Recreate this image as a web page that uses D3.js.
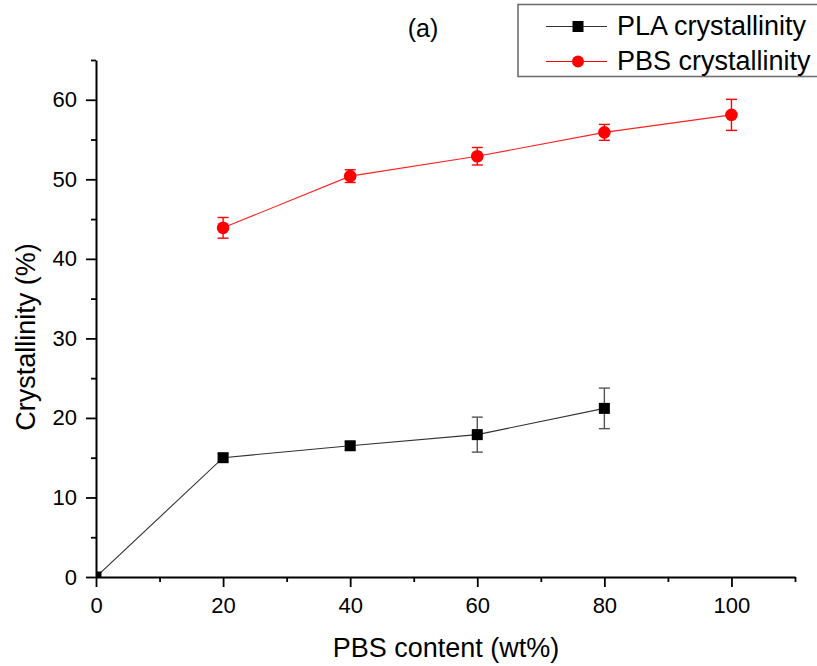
<!DOCTYPE html>
<html>
<head>
<meta charset="utf-8">
<script src="https://cdn.jsdelivr.net/npm/d3@7"></script>
<style>
  html, body { margin: 0; padding: 0; background: #fff; }
  svg { display: block; font-family: "Liberation Sans", Arial, sans-serif; }
</style>
</head>
<body>
<svg id="chart" width="817" height="666"></svg>
<script>
// PBS content (wt%) of each blend
const plaContent = [0, 20, 40, 60, 80];
const plaCrystallinity = [0, 15.0, 16.5, 17.9, 21.2];
const plaError = [0, 0.5, 0.5, 2.2, 2.55];

const pbsContent = [20, 40, 60, 80, 100];
const pbsCrystallinity = [43.9, 50.4, 52.9, 55.9, 58.1];
const pbsError = [1.3, 0.8, 1.1, 1.0, 1.95];

const xMajorTicks = [0, 20, 40, 60, 80, 100];
const xMinorTicks = [10, 30, 50, 70, 90, 110];
const yMajorTicks = [0, 10, 20, 30, 40, 50, 60];
const yMinorTicks = [5, 15, 25, 35, 45, 55, 65];

const seriesNames = ["PLA crystallinity", "PBS crystallinity"];

const svg = d3.select("#chart");
const plotLeft = 96, plotRight = 795, plotTop = 60, plotBottom = 577;

const x = d3.scaleLinear().domain([0, 110]).range([plotLeft, plotRight]);
const y = d3.scaleLinear().domain([0, 65]).range([plotBottom, plotTop]);

// clip marks to the plotting area
svg.append("defs").append("clipPath").attr("id", "plot")
  .append("rect").attr("x", plotLeft).attr("y", plotTop)
  .attr("width", plotRight - plotLeft).attr("height", plotBottom - plotTop);

const plaData = plaContent.map((c, i) => ({ x: c, y: plaCrystallinity[i], e: plaError[i] }));
const pbsData = pbsContent.map((c, i) => ({ x: c, y: pbsCrystallinity[i], e: pbsError[i] }));

const plot = svg.append("g").attr("clip-path", "url(#plot)");
const line = d3.line().x(d => x(d.x)).y(d => y(d.y));

function drawSeries(data, lineColor, errColor, marker) {
  plot.append("path").datum(data)
    .attr("d", line).attr("fill", "none")
    .attr("stroke", lineColor).attr("stroke-width", 1.1);

  const eb = plot.append("g").attr("stroke", errColor).attr("stroke-width", 1.4);
  data.filter(d => d.e > 0).forEach(d => {
    const cx = x(d.x), y1 = y(d.y + d.e), y2 = y(d.y - d.e);
    eb.append("line").attr("x1", cx).attr("x2", cx).attr("y1", y1).attr("y2", y2);
    eb.append("line").attr("x1", cx - 5.5).attr("x2", cx + 5.5).attr("y1", y1).attr("y2", y1);
    eb.append("line").attr("x1", cx - 5.5).attr("x2", cx + 5.5).attr("y1", y2).attr("y2", y2);
  });

  if (marker === "square") {
    plot.append("g").selectAll("rect").data(data).join("rect")
      .attr("x", d => x(d.x) - 5.5).attr("y", d => y(d.y) - 5.5)
      .attr("width", 11).attr("height", 11).attr("fill", "#000");
  } else {
    plot.append("g").selectAll("circle").data(data).join("circle")
      .attr("cx", d => x(d.x)).attr("cy", d => y(d.y))
      .attr("r", 6.3).attr("fill", "#ff0000");
  }
}

drawSeries(plaData, "#333", "#555", "square");
drawSeries(pbsData, "#ff2020", "#ff0000", "circle");

// axes
function styleAxis(g) {
  g.selectAll("line").attr("stroke", "#000").attr("stroke-width", 1.8);
  g.selectAll("path").attr("stroke", "#000").attr("stroke-width", 2);
  g.selectAll("text").attr("fill", "#000").attr("font-size", 22)
    .attr("font-family", "Liberation Sans, Arial, sans-serif");
}

svg.append("g").attr("transform", `translate(0,${plotBottom})`)
  .call(d3.axisBottom(x).tickValues(xMinorTicks).tickSize(5).tickFormat(""))
  .call(g => g.select(".domain").remove())
  .call(styleAxis);
svg.append("g").attr("transform", `translate(0,${plotBottom})`)
  .call(d3.axisBottom(x).tickValues(xMajorTicks).tickSize(10).tickSizeOuter(0).tickPadding(10).tickFormat(d3.format("d")))
  .call(styleAxis);

svg.append("g").attr("transform", `translate(${plotLeft},0)`)
  .call(d3.axisLeft(y).tickValues(yMinorTicks).tickSize(5).tickFormat(""))
  .call(g => g.select(".domain").remove())
  .call(styleAxis);
svg.append("g").attr("transform", `translate(${plotLeft},0)`)
  .call(d3.axisLeft(y).tickValues(yMajorTicks).tickSize(10).tickSizeOuter(0).tickPadding(9).tickFormat(d3.format("d")))
  .call(styleAxis);

// axis titles
svg.append("text").attr("x", 446).attr("y", 657)
  .attr("text-anchor", "middle").attr("font-size", 27)
  .text("PBS content (wt%)");
svg.append("text")
  .attr("transform", "translate(35,337) rotate(-90)")
  .attr("text-anchor", "middle").attr("font-size", 27)
  .text("Crystallinity (%)");

// panel label
svg.append("text").attr("x", 423).attr("y", 37)
  .attr("text-anchor", "middle").attr("font-size", 25)
  .text("(a)");

// legend
const legend = svg.append("g");
legend.append("rect").attr("x", 518).attr("y", 4.5)
  .attr("width", 320).attr("height", 72)
  .attr("fill", "#fff").attr("stroke", "#707070").attr("stroke-width", 1.6);

const legendRows = [
  { name: seriesNames[0], color: "#333", fill: "#000", marker: "square", ly: 26.5, ty: 35 },
  { name: seriesNames[1], color: "#ff0000", fill: "#ff0000", marker: "circle", ly: 61.5, ty: 70 }
];
legendRows.forEach(r => {
  legend.append("line").attr("x1", 546).attr("x2", 607)
    .attr("y1", r.ly).attr("y2", r.ly)
    .attr("stroke", r.color).attr("stroke-width", 1.1);
  if (r.marker === "square") {
    legend.append("rect").attr("x", 578 - 5.5).attr("y", r.ly - 5.5)
      .attr("width", 11).attr("height", 11).attr("fill", r.fill);
  } else {
    legend.append("circle").attr("cx", 578).attr("cy", r.ly).attr("r", 6).attr("fill", r.fill);
  }
  legend.append("text").attr("x", 617).attr("y", r.ty)
    .attr("font-size", 27).text(r.name);
});
</script>
</body>
</html>
